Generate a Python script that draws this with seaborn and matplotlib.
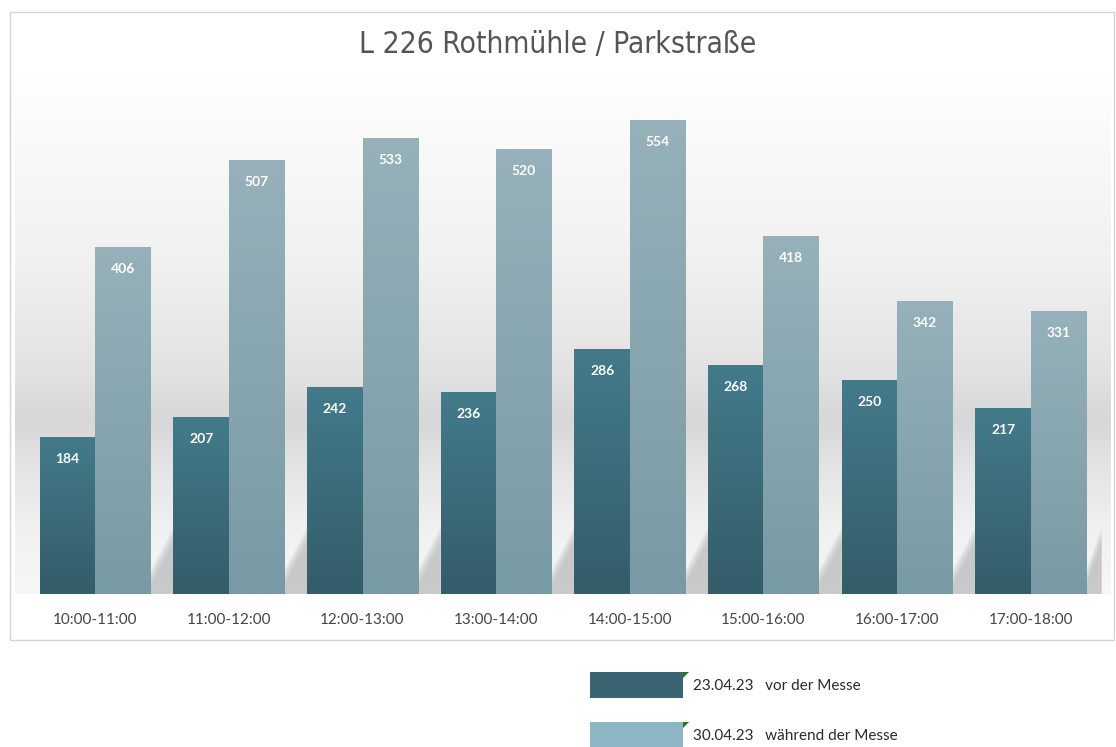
import numpy as np
import pandas as pd
import matplotlib.pyplot as plt
import seaborn as sns
from matplotlib.patches import Rectangle, Polygon
from matplotlib.colors import LinearSegmentedColormap

zeiten = ['10:00-11:00', '11:00-12:00', '12:00-13:00', '13:00-14:00',
          '14:00-15:00', '15:00-16:00', '16:00-17:00', '17:00-18:00']
vor_messe = [184, 207, 242, 236, 286, 268, 250, 217]
waehrend_messe = [406, 507, 533, 520, 554, 418, 342, 331]
tage = ['23.04.23', '30.04.23']
bezeichnung = ['vor der Messe', 'während der Messe']

W, H = 1116, 747
DPI = 100

df = pd.DataFrame({
    'Zeit': zeiten * 2,
    'Anzahl': vor_messe + waehrend_messe,
    'Tag': [tage[0]] * len(zeiten) + [tage[1]] * len(zeiten),
})

sns.set_style('white')
plt.rcParams['font.family'] = ['Lato', 'DejaVu Sans']

fig = plt.figure(figsize=(W / DPI, H / DPI), dpi=DPI)
fig.patch.set_facecolor('white')

# chart frame
fig.patches.append(Rectangle((10 / W, 1 - 640 / H), 1104 / W, 628 / H,
                             transform=fig.transFigure, fc='none',
                             ec='#d4d4d4', lw=1, zorder=5))

ax = fig.add_axes([15 / W, 1 - 594 / H, 1096 / W, 524 / H])
ax.set_facecolor('none')

px = 1 / 0.8556  # data units per pixel
ymax = 524 * px
sns.barplot(data=df, x='Zeit', y='Anzahl', hue='Tag',
            palette=['#3d7282', '#8aa8b2'], width=0.83, gap=0,
            saturation=1, legend=False, linewidth=0, ax=ax, zorder=2)
ax.set_xlim(-0.6, len(zeiten) - 0.4)
ax.set_ylim(0, ymax)

# background gradient
bg_cmap = LinearSegmentedColormap.from_list('bg', [
    (0.0, '#f7f7f7'), (0.12, '#f1f1f1'), (0.24, '#e4e4e4'),
    (0.33, '#d7d7d7'), (0.42, '#e2e2e2'), (0.62, '#f0f0f0'),
    (0.85, '#f9f9f9'), (1.0, '#ffffff')])
grad = np.linspace(0, 1, 256).reshape(-1, 1)
ax.imshow(grad, cmap=bg_cmap, origin='lower', aspect='auto',
          extent=(-0.6, len(zeiten) - 0.4, 0, ymax), zorder=0)

# soft shadows between the groups
for i in range(len(zeiten)):
    x0 = i + 0.415
    x1 = i + 0.585 if i < len(zeiten) - 1 else i + 0.53
    for s in range(6):
        off = s * 3 * px
        shadow = Polygon([(x0, 0), (x0, 9 * px + off), (x1, 52 * px + off),
                          (x1, 0)],
                         closed=True, fc='#a8a8a8', ec='none', alpha=0.12, zorder=1)
        ax.add_patch(shadow)

# bar gradients
cm_dark = LinearSegmentedColormap.from_list('d', ['#345c69', '#437b8b'])
cm_light = LinearSegmentedColormap.from_list('l', ['#789aa4', '#96b1ba'])
n = len(zeiten)
for k, bar in enumerate(ax.patches[:2 * n]):
    x, w, h = bar.get_x(), bar.get_width(), bar.get_height()
    cmap = cm_dark if k < n else cm_light
    im = ax.imshow(grad, cmap=cmap, origin='lower', aspect='auto',
                   extent=(x, x + w, 0, h), zorder=3)
    im.set_clip_path(bar)
    ax.text(x + w / 2, h - 22 * px, f'{int(h)}', ha='center', va='center',
            color='white', fontsize=10, fontweight='bold', zorder=4)

ax.set_xlim(-0.6, len(zeiten) - 0.4)
ax.set_ylim(0, ymax)
ax.set_xlabel('')
ax.set_ylabel('')
ax.set_yticks([])
ax.tick_params(axis='x', length=0, pad=14, labelsize=11, labelcolor='#454545')
sns.despine(ax=ax, left=True, bottom=True)

fig.text(0.5, 1 - 45 / H, 'L 226 Rothmühle / Parkstraße', ha='center', va='center',
         fontsize=21.5, color='#555555', family='DejaVu Sans', fontstretch='condensed')

# legend
leg_cols = ['#3a6472', '#8db6c4']
for j, (tag, txt) in enumerate(zip(tage, bezeichnung)):
    top = 672 + j * 50
    fig.patches.append(Rectangle((590 / W, 1 - (top + 26) / H), 93 / W, 26 / H,
                                 transform=fig.transFigure, fc=leg_cols[j], ec='none'))
    fig.patches.append(Polygon([(683 / W, 1 - top / H), (689 / W, 1 - top / H),
                                (683 / W, 1 - (top + 6) / H)], closed=True,
                               transform=fig.transFigure, fc='#1f7a1f', ec='none'))
    fig.text(693 / W, 1 - (top + 14) / H, f'{tag}   {txt}', ha='left', va='center',
             fontsize=11, color='#2a2a2a')

fig.savefig('out.png', dpi=DPI)
